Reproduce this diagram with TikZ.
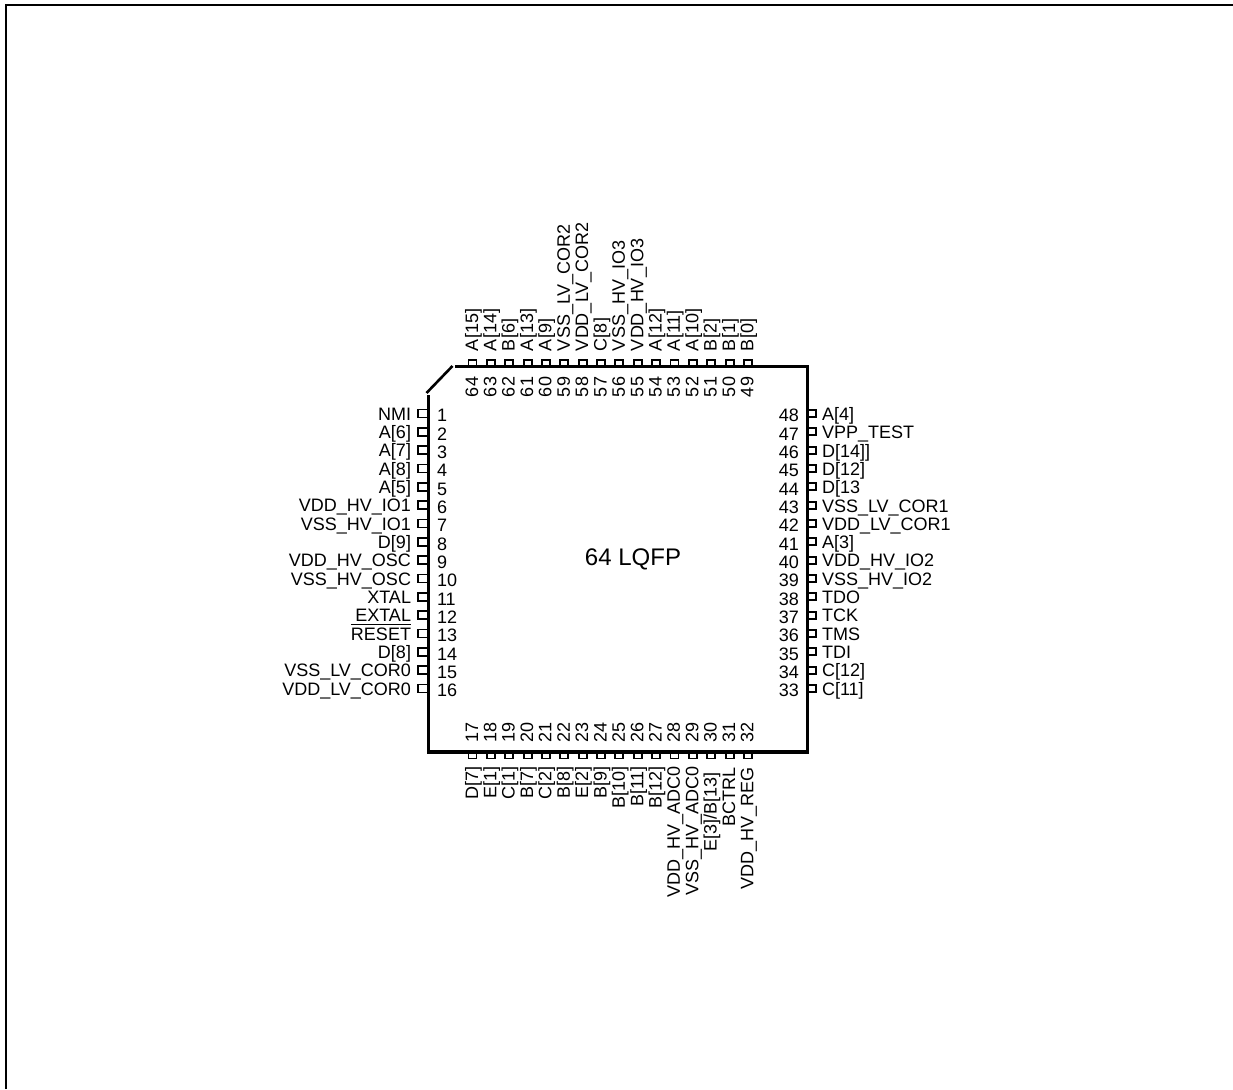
\documentclass[tikz,border=0pt]{standalone}
\usepackage{fontspec}
\setmainfont{Liberation Sans}
\tikzset{
  x=1pt,y=-1pt,
  frameline/.style={draw=black,line width=2pt},
  bodyline/.style={draw=black,line width=3.4pt,line cap=butt},
  chamfer/.style={draw=black,line width=2.6pt},
  padbox/.style={draw=black,line width=1.9pt,fill=white},
  txt/.style={inner sep=0pt,outer sep=0pt,font=\fontsize{18pt}{18pt}\selectfont,text=black},
  bigtxt/.style={inner sep=0pt,outer sep=0pt,font=\fontsize{24pt}{26pt}\selectfont,text=black},
  vert/.style={rotate=90}
}
\begin{document}
\begin{tikzpicture}
\useasboundingbox (0,0) rectangle (1233,1089);
\fill[white] (0,0) rectangle (1233,1089);
% sheet frame
\draw[frameline] (6,1089) -- (6,5) -- (1233,5);
% pads
\foreach \n in {1,...,16}{
  \pgfmathsetmacro{\py}{413.5+(\n-1)*18.33}
  \draw[padbox] (427,\py-4) -- (418,\py-4) -- (418,\py+4) -- (427,\py+4);
}
\foreach \n in {33,...,48}{
  \pgfmathsetmacro{\py}{688.5-(\n-33)*18.33}
  \draw[padbox] (809,\py-3.5) -- (816,\py-3.5) -- (816,\py+3.5) -- (809,\py+3.5);
}
\foreach \n in {17,...,32}{
  \pgfmathsetmacro{\px}{472.5+(\n-17)*18.36}
  \draw[padbox] (\px-4,752) -- (\px-4,758.5) -- (\px+4,758.5) -- (\px+4,752);
}
\foreach \n in {49,...,64}{
  \pgfmathsetmacro{\px}{747.9-(\n-49)*18.36}
  \draw[padbox] (\px-4,366) -- (\px-4,360) -- (\px+4,360) -- (\px+4,366);
}
% package body
\draw[bodyline] (455,366.5) -- (807.5,366.5) -- (807.5,752) -- (428.5,752) -- (428.5,395);
\draw[chamfer] (426.5,393) -- (452.5,366);
\node[bigtxt] (title) at (633,559.5) {64 LQFP};
% left side
\foreach \n/\t in {1/NMI,2/{A[6]},3/{A[7]},4/{A[8]},5/{A[5]},6/{VDD\_HV\_IO1},7/{VSS\_HV\_IO1},8/{D[9]},9/{VDD\_HV\_OSC},10/{VSS\_HV\_OSC},11/XTAL,12/{EXTAL},13/RESET,14/{D[8]},15/{VSS\_LV\_COR0},16/{VDD\_LV\_COR0}}{
  \pgfmathsetmacro{\py}{420.3+(\n-1)*18.33}
  \node[txt,anchor=base east] (lbl\n) at (411,\py) {\t};
  \node[txt,anchor=base west] (num\n) at (437,\py+1.6) {\n};
}
\draw[black,line width=1.3pt] ([yshift=3.4pt]lbl13.north west) -- ([yshift=3.4pt]lbl13.north east);
% right side
\foreach \n/\t in {33/{C[11]},34/{C[12]},35/TDI,36/TMS,37/TCK,38/TDO,39/{VSS\_HV\_IO2},40/{VDD\_HV\_IO2},41/{A[3]},42/{VDD\_LV\_COR1},43/{VSS\_LV\_COR1},44/{D[13},45/{D[12]},46/{D[14]]},47/{VPP\_TEST},48/{A[4]}}{
  \pgfmathsetmacro{\py}{695.3-(\n-33)*18.33}
  \node[txt,anchor=base west] (lbl\n) at (822,\py) {\t};
  \node[txt,anchor=base east] (num\n) at (799,\py+1.6) {\n};
}
% bottom side
\foreach \n/\t in {17/{D[7]},18/{E[1]},19/{C[1]},20/{B[7]},21/{C[2]},22/{B[8]},23/{E[2]},24/{B[9]},25/{B[10]},26/{B[11]},27/{B[12]},28/{VDD\_HV\_ADC0},29/{VSS\_HV\_ADC0},30/{E[3]/B[13]},31/BCTRL,32/{VDD\_HV\_REG}}{
  \pgfmathsetmacro{\px}{478+(\n-17)*18.36}
  \pgfmathsetmacro{\ly}{\n==30 ? 772.5 : (\n>30 ? 767.5 : 766)}
  \node[txt,vert,anchor=base east] (lbl\n) at (\px,\ly) {\t};
  \node[txt,vert,anchor=base west] (num\n) at (\px,742) {\n};
}
% top side
\foreach \n/\t in {49/{B[0]},50/{B[1]},51/{B[2]},52/{A[10]},53/{A[11]},54/{A[12]},55/{VDD\_HV\_IO3},56/{VSS\_HV\_IO3},57/{C[8]},58/{VDD\_LV\_COR2},59/{VSS\_LV\_COR2},60/{A[9]},61/{A[13]},62/{B[6]},63/{A[14]},64/{A[15]}}{
  \pgfmathsetmacro{\px}{753.4-(\n-49)*18.36}
  \node[txt,vert,anchor=base west] (lbl\n) at (\px,351) {\t};
  \node[txt,vert,anchor=base west] (num\n) at (\px,397) {\n};
}
\end{tikzpicture}
\end{document}
